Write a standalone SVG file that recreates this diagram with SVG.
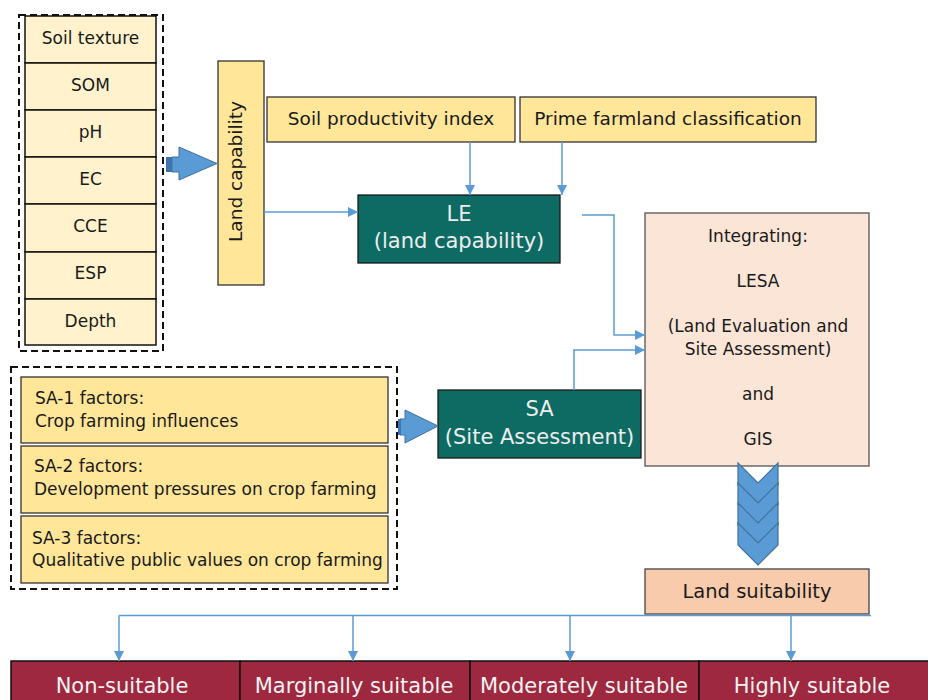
<svg xmlns="http://www.w3.org/2000/svg" width="928" height="700" viewBox="0 0 928 700">
  <defs>
    <marker id="arr" viewBox="0 0 10 10" refX="10" refY="5" markerWidth="10" markerHeight="10" markerUnits="userSpaceOnUse" orient="auto">
      <path d="M0,0 L10,5 L0,10 Z" fill="#5B9BD5"/>
    </marker>
    <style>
      text { font-family: "DejaVu Sans", Verdana, sans-serif; fill: #1a1a1a; }
      .cell { fill: #FFF2CC; stroke: #111; stroke-width: 1.5; }
      .gold { fill: #FFE699; stroke: #333; stroke-width: 1.3; }
      .teal { fill: #0E6B63; stroke: #1a1a1a; stroke-width: 1.3; }
      .teal-t { fill: #EDEDED; font-size: 21px; text-anchor: middle; }
      .peach { fill: #FBE5D6; stroke: #555; stroke-width: 1.3; }
      .salmon { fill: #F8CBAD; stroke: #444; stroke-width: 1.3; }
      .maroon { fill: #9E2840; stroke: #111; stroke-width: 1.5; }
      .maroon-t { fill: #F2F2F2; font-size: 21px; text-anchor: middle; }
      .dash { fill: none; stroke: #111; stroke-width: 2; stroke-dasharray: 7 4; }
      .ct { font-size: 17px; text-anchor: middle; }
      .ft { font-size: 17px; }
      .it { font-size: 17px; text-anchor: middle; }
      .link { fill: none; stroke: #5B9BD5; stroke-width: 1.5; marker-end: url(#arr); }
      .blk-dark { fill: #3F74AE; stroke: none; }
      .blk-head { fill: #5B9BD5; stroke: #41719C; stroke-width: 1; }
      .chev { fill: #5B9BD5; stroke: #41719C; stroke-width: 1.2; }
    </style>
  </defs>

  <!-- soil property stack -->
  <g id="soil-properties">
    <rect class="dash" x="19" y="15" width="144" height="336"/>
    <rect class="cell" x="25" y="16" width="131" height="47"/>
    <text class="ct" x="90.5" y="44">Soil texture</text>
    <rect class="cell" x="25" y="63" width="131" height="47"/>
    <text class="ct" x="90.5" y="91">SOM</text>
    <rect class="cell" x="25" y="110" width="131" height="47"/>
    <text class="ct" x="90.5" y="138">pH</text>
    <rect class="cell" x="25" y="157" width="131" height="47"/>
    <text class="ct" x="90.5" y="185">EC</text>
    <rect class="cell" x="25" y="204" width="131" height="48"/>
    <text class="ct" x="90.5" y="232">CCE</text>
    <rect class="cell" x="25" y="252" width="131" height="47"/>
    <text class="ct" x="90.5" y="279">ESP</text>
    <rect class="cell" x="25" y="299" width="131" height="46"/>
    <text class="ct" x="90.5" y="327">Depth</text>
  </g>

  <g id="land-capability">
    <rect class="gold" x="218" y="61" width="46" height="224"/>
    <text x="242" y="171.5" font-size="18.5" text-anchor="middle" transform="rotate(-90 242 171.5)">Land capability</text>
  </g>

  <g id="soil-productivity-index">
    <rect class="gold" x="267" y="97" width="248" height="45"/>
    <text x="391" y="125" font-size="18.5" text-anchor="middle">Soil productivity index</text>
  </g>

  <g id="prime-farmland">
    <rect class="gold" x="520" y="97" width="296" height="45"/>
    <text x="668" y="125" font-size="18.5" text-anchor="middle">Prime farmland classification</text>
  </g>

  <g id="le">
    <rect class="teal" x="358" y="195" width="202" height="68"/>
    <text class="teal-t" x="459" y="221">LE</text>
    <text class="teal-t" x="459" y="248">(land capability)</text>
  </g>

  <g id="lesa">
    <rect class="peach" x="645" y="213" width="224" height="253"/>
    <text class="it" x="758" y="242">Integrating:</text>
    <text class="it" x="758" y="287">LESA</text>
    <text class="it" x="758" y="332">(Land Evaluation and</text>
    <text class="it" x="758" y="355">Site Assessment)</text>
    <text class="it" x="758" y="400">and</text>
    <text class="it" x="758" y="445">GIS</text>
  </g>

  <!-- site assessment factor stack -->
  <g id="sa-factors">
    <rect class="dash" x="11" y="367" width="386" height="222"/>
    <rect class="gold" x="21" y="377" width="367" height="66"/>
    <text class="ft" x="35" y="404">SA-1 factors:</text>
    <text class="ft" x="35" y="427">Crop farming influences</text>
    <rect class="gold" x="21" y="446" width="367" height="67"/>
    <text class="ft" x="34" y="472">SA-2 factors:</text>
    <text class="ft" x="34" y="495">Development pressures on crop farming</text>
    <rect class="gold" x="21" y="516" width="367" height="67"/>
    <text class="ft" x="32" y="544">SA-3 factors:</text>
    <text class="ft" x="32" y="566">Qualitative public values on crop farming</text>
  </g>

  <g id="sa">
    <rect class="teal" x="438" y="390" width="203" height="68"/>
    <text class="teal-t" x="539.5" y="416">SA</text>
    <text class="teal-t" x="539.5" y="444">(Site Assessment)</text>
  </g>

  <g id="land-suitability">
    <rect class="salmon" x="645" y="569" width="224" height="45"/>
    <text x="757" y="598" font-size="19.5" text-anchor="middle">Land suitability</text>
  </g>

  <g id="non-suitable">
    <rect class="maroon" x="11" y="661" width="229" height="45"/>
    <text class="maroon-t" x="122" y="693">Non-suitable</text>
  </g>
  <g id="marginally-suitable">
    <rect class="maroon" x="240" y="661" width="230" height="45"/>
    <text class="maroon-t" x="354" y="693">Marginally suitable</text>
  </g>
  <g id="moderately-suitable">
    <rect class="maroon" x="470" y="661" width="229" height="45"/>
    <text class="maroon-t" x="584" y="693">Moderately suitable</text>
  </g>
  <g id="highly-suitable">
    <rect class="maroon" x="699" y="661" width="235" height="45"/>
    <text class="maroon-t" x="812" y="693">Highly suitable</text>
  </g>

  <g id="connectors">
    <!-- block arrows: shaded tail stripe, then the arrow body -->
    <path class="blk-head" d="M172,157 L179,157 L179,147 L217,163.5 L179,180 L179,172 L172,172 Z"/>
    <rect class="blk-dark" x="166" y="157" width="6" height="15"/>
    <path class="blk-head" d="M400,419 L405,419 L405,410 L438,426 L405,443 L405,435 L400,435 Z"/>
    <rect class="blk-dark" x="398" y="419" width="3" height="16"/>
    <!-- chevron stack -->
    <path class="chev" d="M738,463 L758,483 L778,463 L778,485 L758,505 L738,485 Z"/>
    <path class="chev" d="M738,483 L758,503 L778,483 L778,505 L758,525 L738,505 Z"/>
    <path class="chev" d="M738,503 L758,523 L778,503 L778,525 L758,545 L738,525 Z"/>
    <path class="chev" d="M738,523 L758,543 L778,523 L778,545 L758,565 L738,545 Z"/>
    <!-- thin links -->
    <path class="link" d="M264,212 L358,212"/>
    <path class="link" d="M470,142 L470,195"/>
    <path class="link" d="M562,142 L562,195"/>
    <path class="link" d="M582,215 L614,215 L614,335 L645,335"/>
    <path class="link" d="M574,390 L574,350 L645,350"/>
    <path d="M119,615.5 L871,615.5" fill="none" stroke="#5B9BD5" stroke-width="1.5"/>
    <path class="link" d="M119,615.5 L119,661"/>
    <path class="link" d="M353,615.5 L353,661"/>
    <path class="link" d="M570,615.5 L570,661"/>
    <path class="link" d="M791,615.5 L791,661"/>
  </g>
</svg>
